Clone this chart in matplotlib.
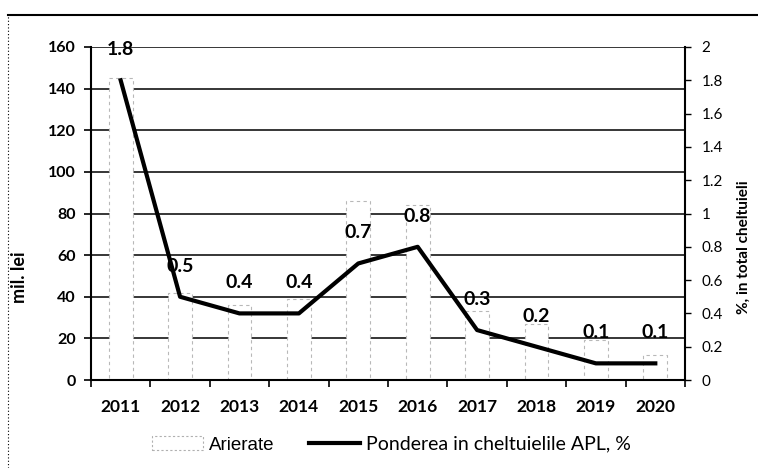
import matplotlib.pyplot as plt
from matplotlib.patches import Patch
from matplotlib.lines import Line2D

plt.rcParams['font.family'] = ['Lato', 'DejaVu Sans']

years = ['2011', '2012', '2013', '2014', '2015', '2016', '2017', '2018', '2019', '2020']
arierate = [145, 42, 36, 39, 86, 84, 33, 27, 19, 12]
pondere = [1.8, 0.5, 0.4, 0.4, 0.7, 0.8, 0.3, 0.2, 0.1, 0.1]
pondere_labels = ['1.8', '0.5', '0.4', '0.4', '0.7', '0.8', '0.3', '0.2', '0.1', '0.1']
right_ticks = [0, 0.2, 0.4, 0.6, 0.8, 1, 1.2, 1.4, 1.6, 1.8, 2]
right_tick_labels = ['0', '0.2', '0.4', '0.6', '0.8', '1', '1.2', '1.4', '1.6', '1.8', '2']

fig = plt.figure(figsize=(7.58, 4.68), dpi=100)
ax = fig.add_axes([0.12, 0.188, 0.7837, 0.7116])
x = list(range(len(years)))

## bars (white, dashed faint edge) over the grid
ax.set_axisbelow(True)
ax.yaxis.grid(True, color='black', linewidth=1.1)
ax.bar(x, arierate, width=0.4, color='white', edgecolor='#b8b8b8',
       linestyle=(0, (3, 3)), linewidth=0.8, zorder=2)

ax.set_xlim(-0.5, 9.5)
ax.set_ylim(0, 160)
ax.set_yticks(range(0, 161, 20))
ax.set_xticks(x)
ax.set_xticklabels(years, fontsize=12.5, fontweight='bold')
ax.set_xticks([i - 0.5 for i in range(11)], minor=True)
ax.tick_params(axis='x', which='major', length=0, pad=14)
ax.tick_params(axis='x', which='minor', length=5, width=1.2, direction='out')
ax.tick_params(axis='y', length=5, width=1.2, labelsize=11.5, pad=6)
for t in ax.get_yticklabels():
    t.set_fontweight('bold')
ax.set_ylabel('mil. lei', fontsize=13, fontweight='bold')
ax.yaxis.set_label_coords(-0.106, 0.31)

for s in ['left', 'bottom']:
    ax.spines[s].set_linewidth(1.5)
ax.spines['top'].set_visible(False)
ax.spines['right'].set_visible(False)

## line on the secondary axis
ax2 = ax.twinx()
ax2.plot(x, pondere, color='black', linewidth=3, zorder=3)
ax2.set_ylim(0, 2)
ax2.set_yticks(right_ticks)
ax2.set_yticklabels(right_tick_labels, fontsize=11)
ax2.tick_params(axis='y', length=4, width=1.0, pad=8)
ax2.spines['right'].set_linewidth(1.5)
ax2.spines['top'].set_visible(False)
ax2.spines['left'].set_visible(False)
ax2.spines['bottom'].set_visible(False)
ax2.set_ylabel('%, in total cheltuieli', fontsize=11, fontweight='bold')
ax2.yaxis.set_label_coords(1.088, 0.40)

for xi, v, lab in zip(x, pondere, pondere_labels):
    ax2.annotate(lab, (xi, v), xytext=(0, 22), textcoords='offset points',
                 ha='center', va='center', fontsize=14, fontweight='bold')

## legend
handles = [Patch(facecolor='white', edgecolor='#b0b0b0', linestyle=(0, (2, 2)), linewidth=0.8),
           Line2D([0], [0], color='black', linewidth=3)]
leg = fig.legend(handles, ['Arierate', 'Ponderea in cheltuielile APL, %'], loc='center',
                 bbox_to_anchor=(0.5165, 0.05), ncol=2, frameon=False, fontsize=14,
                 handlelength=2.6, columnspacing=1.8, handletextpad=0.3)
leg.get_texts()[0].set_family('Liberation Sans')
leg.get_texts()[0].set_fontsize(13.5)

## chart border (top and left edges visible in the scan)
fig.add_artist(Line2D([0.0106, 1.0], [0.968, 0.968], color='black', linewidth=1.5))
fig.add_artist(Line2D([0.0106, 0.0106], [0.0, 0.968], color='black', linewidth=0.8,
                      linestyle=(0, (1, 2))))

fig.savefig('out.png', dpi=100)
